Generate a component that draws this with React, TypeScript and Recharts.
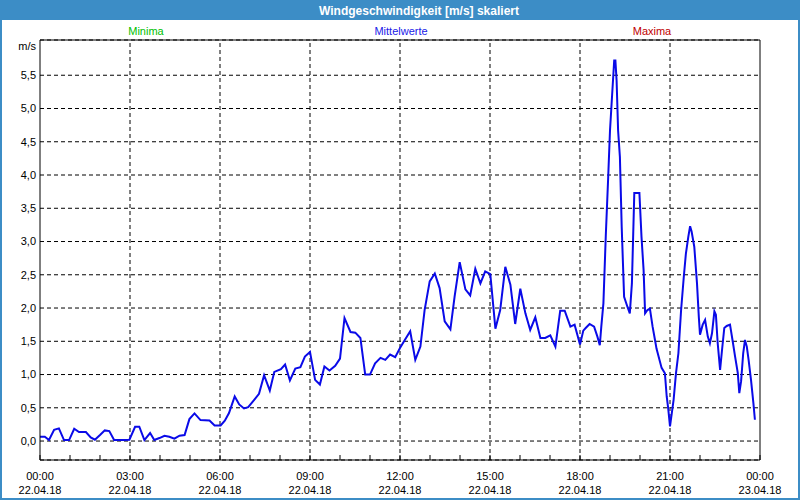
import React from 'react';
import { LineChart, Line, XAxis, YAxis, CartesianGrid, ReferenceLine } from 'recharts';

// time of day in hours (22.04.18 00:00 = 0)
const hours = [
  0.0, 0.16, 0.3, 0.47, 0.63, 0.8, 0.97, 1.14, 1.3, 1.53, 1.69, 1.83, 2.0, 2.16, 2.31, 2.47, 2.81, 2.98,
  3.17, 3.31, 3.48, 3.67, 3.81, 3.98, 4.15, 4.31, 4.48, 4.65, 4.82, 4.98, 5.15, 5.35, 5.65, 5.82,
  6.02, 6.16, 6.3, 6.49, 6.64, 6.8, 6.94, 7.14, 7.3, 7.47, 7.66, 7.81, 8.03, 8.17, 8.33, 8.51, 8.68, 8.83,
  9.0, 9.17, 9.33, 9.48, 9.65, 9.84, 10.0, 10.15, 10.35, 10.51, 10.68, 10.84, 11.0, 11.17, 11.35, 11.51, 11.67, 11.84,
  12.0, 12.16, 12.34, 12.51, 12.68, 12.82, 12.99, 13.16, 13.32, 13.49, 13.68, 13.82, 13.99, 14.18, 14.34, 14.51, 14.68, 14.84,
  15.01, 15.18, 15.34, 15.51, 15.68, 15.84, 16.01, 16.18, 16.34, 16.51, 16.68, 16.84, 17.01, 17.18, 17.34, 17.49, 17.68, 17.82,
  18.0, 18.11, 18.19, 18.32, 18.47, 18.58, 18.66, 18.71, 18.78, 18.86, 18.94, 19.0, 19.07, 19.14, 19.18, 19.22, 19.27, 19.33,
  19.39, 19.47, 19.58, 19.66, 19.73, 19.81, 19.98, 20.05, 20.12, 20.17, 20.25, 20.33, 20.42, 20.5, 20.55, 20.72, 20.83, 20.89, 20.94,
  21.0, 21.06, 21.12, 21.2, 21.28, 21.37, 21.46, 21.53, 21.61, 21.67, 21.72, 21.81, 21.9, 21.96, 22.0, 22.09, 22.17, 22.26, 22.33,
  22.4, 22.48, 22.53, 22.59, 22.67, 22.73, 22.81, 22.89, 23.0, 23.09, 23.17, 23.26, 23.31, 23.37, 23.44, 23.5, 23.56, 23.62, 23.7,
  23.78, 23.83,
];

// wind speed means in m/s
const speeds = [
  0.065, 0.065, 0.015, 0.17, 0.19, 0.015, 0.015, 0.185, 0.135, 0.135, 0.055, 0.02, 0.09, 0.16, 0.15, 0.015, 0.015, 0.02,
  0.215, 0.215, 0.015, 0.12, 0.015, 0.045, 0.08, 0.065, 0.035, 0.08, 0.09, 0.33, 0.415, 0.315, 0.31, 0.235,
  0.235, 0.307, 0.42, 0.67, 0.55, 0.49, 0.51, 0.62, 0.71, 0.99, 0.76, 1.04, 1.08, 1.15, 0.91, 1.09, 1.11, 1.27,
  1.34, 0.92, 0.85, 1.12, 1.06, 1.13, 1.24, 1.85, 1.64, 1.63, 1.55, 1.0, 1.0, 1.17, 1.25, 1.22, 1.3, 1.26,
  1.4, 1.52, 1.65, 1.22, 1.42, 1.97, 2.4, 2.52, 2.3, 1.8, 1.68, 2.17, 2.69, 2.28, 2.19, 2.59, 2.37, 2.55,
  2.51, 1.69, 1.97, 2.62, 2.35, 1.76, 2.29, 1.92, 1.67, 1.86, 1.55, 1.55, 1.59, 1.42, 1.96, 1.96, 1.72, 1.75,
  1.45, 1.66, 1.7, 1.76, 1.72, 1.57, 1.44, 1.72, 2.07, 3.09, 3.97, 4.67, 5.2, 5.72, 5.72, 5.42, 4.67, 4.27,
  3.22, 2.17, 2.02, 1.92, 2.37, 3.73, 3.73, 3.07, 2.57, 1.92, 1.97, 1.99, 1.72, 1.52, 1.39, 1.1, 1.02, 0.67, 0.49,
  0.22, 0.42, 0.62, 1.02, 1.32, 1.97, 2.47, 2.82, 3.07, 3.23, 3.15, 2.92, 2.37, 1.87, 1.6, 1.75, 1.82, 1.57, 1.47,
  1.62, 1.95, 1.9, 1.47, 1.07, 1.35, 1.7, 1.73, 1.75, 1.5, 1.27, 1.02, 0.72, 0.9, 1.32, 1.52, 1.42, 1.22, 0.92,
  0.57, 0.32,
];

const yTicks = [0, 0.5, 1, 1.5, 2, 2.5, 3, 3.5, 4, 4.5, 5, 5.5];
const hourTicks = [0, 1, 2, 3, 4, 5, 6, 7, 8, 9, 10, 11, 12, 13, 14, 15, 16, 17, 18, 19, 20, 21, 22, 23, 24];
const gridHours = [3, 6, 9, 12, 15, 18, 21];
const tickTimes = ['00:00', '03:00', '06:00', '09:00', '12:00', '15:00', '18:00', '21:00', '00:00'];
const tickDates = ['22.04.18', '22.04.18', '22.04.18', '22.04.18', '22.04.18', '22.04.18', '22.04.18', '22.04.18', '23.04.18'];
const legendLabels = ['Minima', 'Mittelwerte', 'Maxima'];
const legendColors = ['#00c000', '#2020e8', '#c00000'];
const title = 'Windgeschwindigkeit [m/s] skaliert';
const unit = 'm/s';

const Y_MIN = -0.285;
const Y_MAX = 6.03;

const data = hours.map((h, i) => ({ h, v: speeds[i] }));

const FONT = "'Liberation Sans', Arial, sans-serif";

const XTick = (props: any) => {
  const { x, y, payload } = props;
  const h = payload.value;
  const idx = h % 3 === 0 ? h / 3 : -1;
  return (
    <g>
      <line x1={x} x2={x} y1={y - 5} y2={y} stroke="#000" strokeWidth={1} />
      {idx >= 0 && (
        <text x={x} y={y + 20} textAnchor="middle" fontSize={11} fontFamily={FONT} fill="#000">
          {tickTimes[idx]}
        </text>
      )}
      {idx >= 0 && (
        <text x={x} y={y + 34} textAnchor="middle" fontSize={11} fontFamily={FONT} fill="#000">
          {tickDates[idx]}
        </text>
      )}
    </g>
  );
};

const legendX = [146, 401, 652];

export default function App() {
  return (
    <div style={{ position: 'absolute', left: 0, top: 0, width: 800, height: 500, background: '#fff', overflow: 'hidden' }}>
      <div style={{ position: 'absolute', left: 0, top: 0 }}>
        <LineChart width={800} height={500} data={data} margin={{ top: 40, right: 40, bottom: 0, left: 0 }}>
          <CartesianGrid vertical={false} stroke="#000" strokeDasharray="4 3" />
          {gridHours.map((g) => (
            <ReferenceLine key={g} x={g} stroke="#000" strokeDasharray="4 3" />
          ))}
          <ReferenceLine x={24} stroke="#000" />
          <ReferenceLine y={Y_MAX} stroke="#000" />
          <XAxis
            dataKey="h"
            type="number"
            domain={[0, 24]}
            allowDataOverflow
            ticks={hourTicks}
            interval={0}
            height={40}
            tickSize={0}
            tickMargin={0}
            tickLine={false}
            axisLine={{ stroke: '#000' }}
            tick={<XTick />}
          />
          <YAxis
            type="number"
            domain={[Y_MIN, Y_MAX]}
            allowDataOverflow
            ticks={yTicks}
            interval={0}
            width={40}
            tickSize={0}
            tickMargin={4}
            tickLine={false}
            axisLine={{ stroke: '#000' }}
            tick={{ fontSize: 11, fill: '#000', fontFamily: FONT }}
            tickFormatter={(v: number) => v.toFixed(1).replace('.', ',')}
          />
          <Line
            type="linear"
            dataKey="v"
            stroke="#0a0ae8"
            strokeWidth={2}
            dot={false}
            isAnimationActive={false}
          />
        </LineChart>
      </div>
      <svg width={800} height={500} style={{ position: 'absolute', left: 0, top: 0, pointerEvents: 'none' }}>
        <rect x={0} y={0} width={800} height={20} fill="#3c8dc6" />
        <rect x={0} y={0} width={2} height={500} fill="#3c8dc6" />
        <rect x={798} y={0} width={2} height={500} fill="#3c8dc6" />
        <rect x={0} y={498} width={800} height={2} fill="#3c8dc6" />
        <text x={419} y={15} textAnchor="middle" fontSize={12} fontWeight="bold" fontFamily={FONT} fill="#fff">
          {title}
        </text>
        {legendLabels.map((l, i) => (
          <text key={l} x={legendX[i]} y={35} textAnchor="middle" fontSize={11} fontFamily={FONT} fill={legendColors[i]}>
            {l}
          </text>
        ))}
        <text x={36} y={50} textAnchor="end" fontSize={11} fontFamily={FONT} fill="#000">
          {unit}
        </text>
      </svg>
    </div>
  );
}
